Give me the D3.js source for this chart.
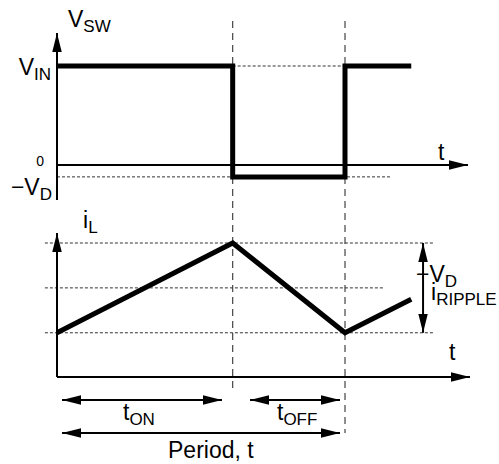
<!DOCTYPE html>
<html>
<head>
<meta charset="utf-8">
<script src="https://cdn.jsdelivr.net/npm/d3@7"></script>
<style>
  body { margin: 0; background: #fff; }
  text { font-family: "Liberation Sans", Arial, sans-serif; fill: #000; }
</style>
</head>
<body>
<svg id="chart"></svg>
<script>
// switch node voltage (time in units of one period, voltage in units of VIN)
const vswTime = [0, 0.61, 0.61, 1.0, 1.0, 1.23]
const vswValue = [1, 1, -0.12, -0.12, 1, 1]
// inductor current (units of peak current)
const ilTime = [0, 0.61, 1.0, 1.23]
const ilValue = [0.33, 1.0, 0.33, 0.58]
const ilLevels = [1.0, 0.665, 0.33]
const markTimes = [0.61, 1.0]   // tON, period

let W = 499, H = 464
let svg = d3.select("#chart").attr("width", W).attr("height", H)

const x = d3.scaleLinear().domain([0, 1]).range([57, 345])
const yV = d3.scaleLinear().domain([0, 1]).range([165, 66])
const yI = d3.scaleLinear().domain([0, 1]).range([377, 243])

// arrow heads
let defs = svg.append("defs")
defs.append("marker").attr("id", "ah")
  .attr("markerUnits", "userSpaceOnUse")
  .attr("viewBox", "0 0 20 10").attr("refX", 20).attr("refY", 5)
  .attr("markerWidth", 19).attr("markerHeight", 10).attr("orient", "auto-start-reverse")
  .append("path").attr("d", "M0,0 L20,5 L0,10 Z").attr("fill", "#000")

function seg(x1, y1, x2, y2, cls) {
  return svg.append("line").attr("x1", x1).attr("y1", y1).attr("x2", x2).attr("y2", y2).attr("class", cls)
}
function dotted(x1, y1, x2, y2) {
  seg(x1, y1, x2, y2).attr("stroke", "#333").attr("stroke-width", 1).attr("stroke-dasharray", "3,2")
}

// dashed verticals at tON and T
svg.selectAll(".vmark").data(markTimes).join("line").attr("class", "vmark")
  .attr("x1", d => x(d)).attr("x2", d => x(d))
  .attr("y1", 21).attr("y2", (d, i) => i === 0 ? 388 : 433)
  .attr("stroke", "#444").attr("stroke-width", 1.2).attr("stroke-dasharray", "7,5")

// dotted reference lines
dotted(x(0.61), yV(1), x(1.0), yV(1))
dotted(x(0), yV(-0.12), x(1.16), yV(-0.12))
svg.selectAll(".ilev").data(ilLevels).join("line").attr("class", "ilev")
  .attr("x1", x(-0.042)).attr("x2", (d, i) => i === 1 ? x(1.132) : x(1.306))
  .attr("y1", d => yI(d)).attr("y2", d => yI(d))
  .attr("stroke", "#333").attr("stroke-width", 1).attr("stroke-dasharray", "3,2")

// axes
seg(x(0), 200, x(0), 33).attr("stroke", "#000").attr("stroke-width", 2).attr("marker-end", "url(#ah)")
seg(x(0), yV(0), 468, yV(0)).attr("stroke", "#000").attr("stroke-width", 2).attr("marker-end", "url(#ah)")
seg(x(0), yI(0), x(0), 233).attr("stroke", "#000").attr("stroke-width", 2).attr("marker-end", "url(#ah)")
seg(x(0), yI(0), 470, yI(0)).attr("stroke", "#000").attr("stroke-width", 2).attr("marker-end", "url(#ah)")

// waveforms
let lineV = d3.line().x(d => x(d[0])).y(d => yV(d[1]))
svg.append("path").datum(d3.zip(vswTime, vswValue)).attr("d", lineV)
  .attr("fill", "none").attr("stroke", "#000").attr("stroke-width", 5)
let lineI = d3.line().x(d => x(d[0])).y(d => yI(d[1]))
svg.append("path").datum(d3.zip(ilTime, ilValue)).attr("d", lineI)
  .attr("fill", "none").attr("stroke", "#000").attr("stroke-width", 5)

// ripple double arrow
seg(x(1.271), yI(1), x(1.271), yI(0.33)).attr("stroke", "#000").attr("stroke-width", 2)
  .attr("marker-start", "url(#ah)").attr("marker-end", "url(#ah)")

// time span arrows
seg(62, 400, 222, 400).attr("stroke", "#000").attr("stroke-width", 2)
  .attr("marker-start", "url(#ah)").attr("marker-end", "url(#ah)")
seg(250, 400, 340, 400).attr("stroke", "#000").attr("stroke-width", 2)
  .attr("marker-start", "url(#ah)").attr("marker-end", "url(#ah)")
seg(62, 433, 340, 433).attr("stroke", "#000").attr("stroke-width", 2)
  .attr("marker-start", "url(#ah)").attr("marker-end", "url(#ah)")

// labels with subscripts
function label(px, py, main, sub, anchor, size) {
  let t = svg.append("text").attr("x", px).attr("y", py)
    .attr("text-anchor", anchor || "start").style("font-size", (size || 23) + "px")
  t.append("tspan").text(main)
  if (sub) t.append("tspan").attr("dy", 5).style("font-size", "17px").text(sub)
  return t
}
label(68, 27, "V", "SW")
label(51, 75, "V", "IN", "end")
svg.append("text").attr("x", 44).attr("y", 166).attr("text-anchor", "end").style("font-size", "14px").text("0")
label(52, 195, "−V", "D", "end")
label(438, 160, "t")
label(83, 228, "i", "L")
label(449, 360, "t")
label(416, 282, "−V", "D")
label(431, 300, "i", "RIPPLE")
label(123, 420, "t", "ON")
label(277, 420, "t", "OFF")
label(168, 458, "Period, t")
</script>
</body>
</html>
